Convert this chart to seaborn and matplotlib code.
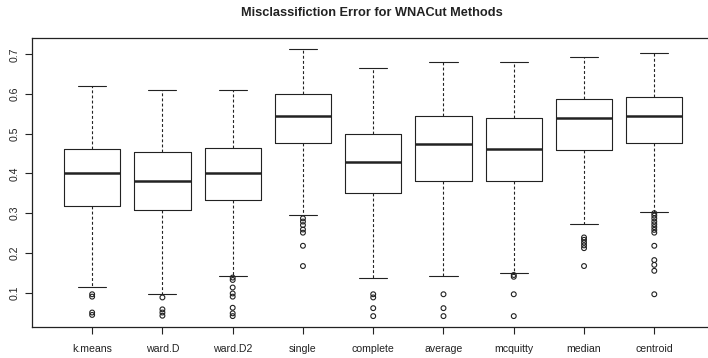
import matplotlib
matplotlib.use("Agg")
import matplotlib.pyplot as plt
import seaborn as sns
import pandas as pd

# Clustering methods compared by WNACut
methods = ["k.means", "ward.D", "ward.D2", "single", "complete",
           "average", "mcquitty", "median", "centroid"]

# Five-number summaries of the misclassification error per method
whisker_low = [0.115, 0.096, 0.143, 0.2955, 0.136, 0.143, 0.150, 0.274, 0.304]
quart1 = [0.319, 0.308, 0.333, 0.476, 0.350, 0.381, 0.381, 0.459, 0.476]
medians = [0.400, 0.381, 0.400, 0.545, 0.429, 0.475, 0.462, 0.539, 0.545]
quart3 = [0.462, 0.454, 0.463, 0.600, 0.500, 0.545, 0.539, 0.588, 0.592]
whisker_high = [0.621, 0.611, 0.611, 0.714, 0.666, 0.681, 0.681, 0.692, 0.704]

# Outlying runs below the lower whisker
outliers = [
    [0.096, 0.090, 0.050, 0.044],
    [0.088, 0.058, 0.050, 0.042],
    [0.138, 0.132, 0.113, 0.098, 0.090, 0.062, 0.048, 0.041],
    [0.287, 0.279, 0.270, 0.259, 0.251, 0.218, 0.167],
    [0.096, 0.088, 0.061, 0.041],
    [0.096, 0.061, 0.041],
    [0.1445, 0.140, 0.096, 0.041],
    [0.239, 0.233, 0.226, 0.219, 0.212, 0.167],
    [0.300, 0.294, 0.287, 0.279, 0.272, 0.265, 0.258, 0.251,
     0.218, 0.182, 0.170, 0.155, 0.096],
]

y_ticks = [0.1, 0.2, 0.3, 0.4, 0.5, 0.6, 0.7]
title = "Misclassifiction Error for WNACut Methods"

sns.set_style("ticks")
plt.rcParams["font.family"] = ["Liberation Sans", "DejaVu Sans"]

ink = "#222222"
fig = plt.figure(figsize=(7.08, 3.58), dpi=100)
ax = fig.add_axes([0.0448, 0.0866, 0.9647, 0.8073])

positions = list(range(1, len(methods) + 1))
stats = [
    dict(label=m, whislo=lo, q1=a, med=md, q3=b, whishi=hi)
    for m, lo, a, md, b, hi in zip(methods, whisker_low, quart1, medians,
                                   quart3, whisker_high)
]
ax.bxp(stats, positions=positions, widths=0.8, showfliers=False,
       boxprops=dict(color=ink, linewidth=0.8),
       whiskerprops=dict(color=ink, linewidth=0.8, linestyle=(0, (2.6, 2.0))),
       capprops=dict(color=ink, linewidth=0.8),
       medianprops=dict(color=ink, linewidth=1.8, solid_capstyle="butt"),
       capwidths=0.4)

# Outlier points drawn through seaborn
flier_df = pd.DataFrame(
    [(pos, v) for pos, vals in zip(positions, outliers) for v in vals],
    columns=["pos", "error"])
sns.scatterplot(data=flier_df, x="pos", y="error", ax=ax, marker="o",
                s=12, facecolor="none", edgecolor=ink, linewidth=0.8,
                legend=False)

ax.set_xlim(0.14, 9.86)
ax.set_ylim(0.0136, 0.741)
ax.set_xticks(positions)
ax.set_xticklabels(methods)
ax.set_yticks(y_ticks)
ax.set_yticklabels([f"{t:.1f}" for t in y_ticks], rotation=90, va="center")
ax.set_xlabel("")
ax.set_ylabel("")

ax.tick_params(axis="both", direction="out", length=5, width=0.8,
               color=ink, labelcolor=ink, labelsize=7.6,
               bottom=True, left=True, top=False, right=False)
ax.tick_params(axis="x", pad=7)
ax.tick_params(axis="y", pad=4)
for side in ["left", "bottom", "top", "right"]:
    ax.spines[side].set_visible(True)
    ax.spines[side].set_color(ink)
    ax.spines[side].set_linewidth(0.9)

fig.text(0.525, 1 - 12.5 / 358, title, ha="center", va="center",
         fontsize=9.2, fontweight="bold", color=ink)

fig.savefig("out.png", dpi=100)
